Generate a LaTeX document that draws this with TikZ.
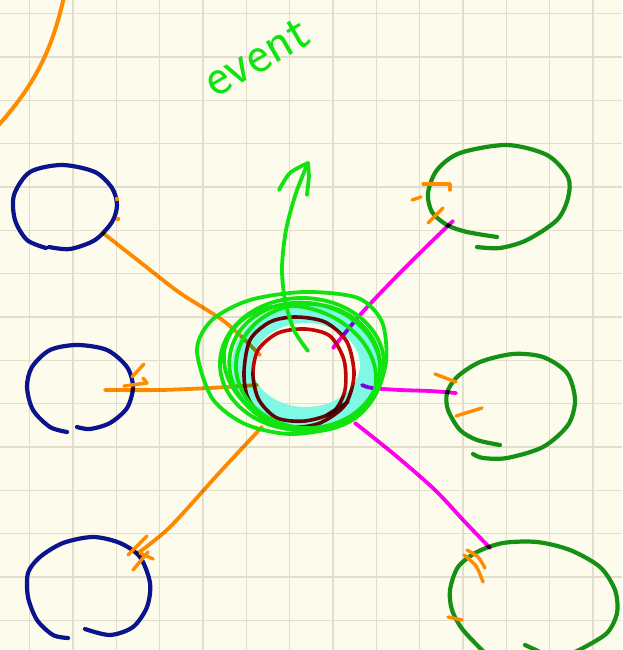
\documentclass[tikz,border=0pt]{standalone}
\definecolor{bgc}{HTML}{FDFBEB}
\definecolor{gridc}{HTML}{E2DECE}
\definecolor{navyc}{HTML}{0A148C}
\definecolor{greenc}{HTML}{149114}
\definecolor{limec}{HTML}{11E311}
\definecolor{orangec}{HTML}{FF8C00}
\definecolor{magc}{HTML}{FF00FF}
\definecolor{redc}{HTML}{C00808}
\definecolor{cyanc}{HTML}{7FF8E4}
\begin{document}
\begin{tikzpicture}[x=1pt,y=-1pt,line cap=round,line join=round,
  gridline/.style={draw=gridc,line width=1.3pt,line cap=butt},
  bubbleL/.style={draw=navyc,line width=4.2pt},
  bubbleR/.style={draw=greenc,line width=4.2pt},
  orangeline/.style={draw=orangec,line width=3.8pt},
  tick/.style={draw=orangec,line width=3.4pt},
  magline/.style={draw=magc,line width=3.8pt},
  scribble/.style={draw=limec,line width=3.8pt},
  redline/.style={draw=redc,line width=3.6pt}]
\useasboundingbox (0,0) rectangle (622,650);
\fill[bgc] (0,0) rectangle (622,650);
\begin{scope}
\clip (0,0) rectangle (622,650);
% grid
\foreach \gx in {29.5,72.9,116.2,159.6,202.9,246.3,289.6,333,376.3,419.7,463,506.4,549.7,593.1}
  {\draw[gridline] (\gx,0) -- (\gx,650);}
\foreach \gy in {13.5,56.9,100.2,143.6,186.9,230.3,273.6,317,360.3,403.7,447,490.4,533.7,577,620.4}
  {\draw[gridline] (0,\gy) -- (622,\gy);}
% orange arc top-left
\draw[orangeline,line width=4pt] (64,-3) .. controls (52,50) and (35,85) .. (-4,128);
% text
\node[text=limec,rotate=30,inner sep=0pt,font=\sffamily\fontsize{54}{54}\selectfont] (event) at (257,58) {event};
% left bubbles (navy)
\draw[bubbleL] plot[smooth] coordinates {(49,247) (70,249) (95,240) (112,222) (117,205) (112,188) (95,172) (62,165) (30,172) (14,195) (15,220) (27,240) (46,248)};
\draw[bubbleL] plot[smooth] coordinates {(67,432) (50,427) (33,410) (27,387) (32,367) (50,350) (77,345) (107,350) (127,367) (133,387) (127,408) (110,423) (90,429) (77,427)};
\draw[bubbleL] plot[smooth] coordinates {(68,638) (53,635) (37,620) (28,597) (28,573) (40,557) (63,543) (93,537) (120,543) (140,557) (150,583) (147,607) (133,627) (110,635) (85,629)};
% right bubbles (green)
\draw[bubbleR] plot[smooth] coordinates {(497,237) (467,232) (447,225) (432,212) (428,193) (437,170) (460,153) (507,145) (547,155) (568,177) (568,198) (557,220) (527,240) (500,248) (477,247)};
\draw[bubbleR] plot[smooth] coordinates {(500,445) (477,440) (460,430) (448,410) (447,393) (457,377) (480,362) (513,354) (543,357) (567,373) (575,400) (568,425) (543,447) (507,458) (483,458) (473,454)};
\draw[bubbleR] plot[smooth] coordinates {(486,654) (463,630) (452,610) (450,590) (458,567) (477,552) (503,543) (537,542) (570,550) (600,567) (615,590) (617,613) (607,633) (583,648) (568,655)};
\draw[bubbleR] (525,645) -- (540,652);
% hub ring
\draw[cyanc,line width=20pt] (306,365) ellipse [x radius=64, y radius=52];
% endpoints
\coordinate (hubTL) at (260,355);
\coordinate (hubML) at (257,385);
\coordinate (hubBL) at (262,427);
\coordinate (hubTR) at (333,348);
\coordinate (hubMR) at (362,385);
\coordinate (hubBR) at (355,423);
\coordinate (tl) at (103,233);
\coordinate (ml) at (105,390);
\coordinate (bl) at (138,553);
\coordinate (tr) at (453,221);
\coordinate (mr) at (456,393);
\coordinate (br) at (490,548);
\begin{scope}[blend mode=multiply]
% red circles
\draw[redline] plot[smooth cycle] coordinates {(244,372) (250,340) (270,322) (295,317) (325,322) (347,342) (354,375) (345,405) (320,423) (293,427) (265,418) (248,398)};
\draw[redline] plot[smooth cycle] coordinates {(253,375) (258,350) (278,333) (305,329) (330,336) (344,360) (345,390) (333,412) (305,421) (277,418) (259,400)};
\draw[redline] (327,415) -- (348,402);
% orange connectors
\draw[orangeline] plot[smooth] coordinates {(tl) (140,262) (180,293) (225,322) (hubTL)};
\draw[orangeline] plot[smooth] coordinates {(ml) (160,390) (210,388) (hubML)};
\draw[orangeline] plot[smooth] coordinates {(bl) (170,527) (220,472) (hubBL)};
% magenta connectors
\draw[magline] plot[smooth] coordinates {(hubTR) (360,315) (392,281) (425,248) (tr)};
\draw[magline] plot[smooth] coordinates {(hubMR) (372,388) (400,390) (430,391) (mr)};
\draw[magline] plot[smooth] coordinates {(hubBR) (395,455) (435,490) (465,522) (br)};
\end{scope}
% orange arrow marks
\fill[orangec] (117,199) circle (2.2);
\fill[orangec] (118,219) circle (2.2);
\draw[tick] (132,377) -- (144,364);
\draw[tick] (124,386) -- (147,383) -- (143,378);
\draw[tick] (147,536) -- (128,555);
\draw[tick] (133,570) -- (148,552);
\draw[tick] (140,553) -- (153,559);
\draw[tick] (423,184) -- (450,184) -- (450,190);
\draw[tick] (412,200) -- (421,197);
\draw[tick] (428,223) -- (443,208);
\draw[tick] (435,374) -- (456,382);
\draw[tick] (456,416) -- (482,408);
\draw[tick] plot[smooth] coordinates {(464,555) (476,566) (483,582)};
\draw[tick] plot[smooth] coordinates {(467,550) (478,557) (485,568)};
\draw[tick] (448,617) -- (462,620);
% green scribbles on hub
\draw[scribble] plot[smooth cycle] coordinates {(197,350) (212,320) (250,300) (305,292) (358,298) (382,322) (386,362) (372,400) (338,426) (290,434) (245,424) (212,398)};
\draw[scribble] (302,364) ellipse [x radius=82, y radius=66];
\draw[scribble,rotate around={-10:(305,367)}] (305,367) ellipse [x radius=76, y radius=64];
\draw[scribble,rotate around={-20:(300,368)}] (300,368) ellipse [x radius=78, y radius=60];
\draw[scribble] (308,366) ellipse [x radius=72, y radius=62];
% green arrow to event
\coordinate (arrowStart) at (308,351);
\coordinate (arrowTip) at (308,163);
\draw[scribble] plot[smooth] coordinates {(arrowStart) (294,330) (285,300) (282,268) (286,230) (296,193) (arrowTip)};
\draw[scribble] plot[smooth] coordinates {(279,190) (290,173) (arrowTip)} -- (309,176) -- (307,195);
\end{scope}
\end{tikzpicture}
\end{document}
